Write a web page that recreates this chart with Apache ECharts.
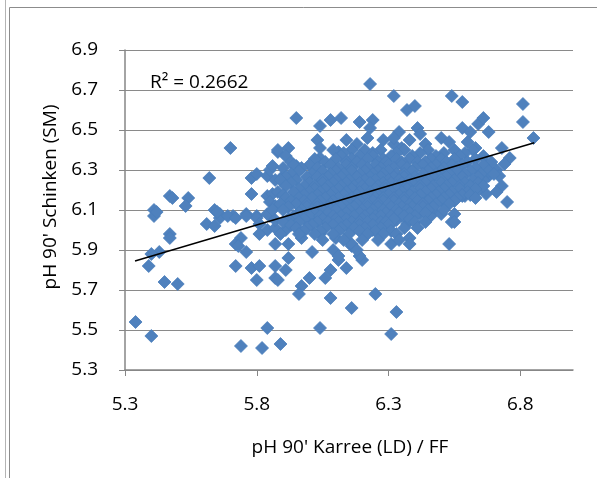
<!DOCTYPE html>
<html>
<head>
<meta charset="utf-8">
<title>pH 90' Schinken vs Karree</title>
<script src="https://cdn.jsdelivr.net/npm/echarts@6/dist/echarts.min.js"></script>
<style>
  html, body { margin: 0; padding: 0; background: #fff; }
  #main { width: 597px; height: 478px; }
</style>
</head>
<body>
<div id="main"></div>
<script type="text/javascript">
// x = pH 90' Karree (LD) / FF, y = pH 90' Schinken (SM)
var xTicks = [5.3, 5.8, 6.3, 6.8];
var yTicks = [5.3, 5.5, 5.7, 5.9, 6.1, 6.3, 6.5, 6.7, 6.9];
var rSquared = '0.2662';

// trendline ends
var trendX = [5.338, 6.853];
var trendY = [5.845, 6.436];

// points above the dense cloud
var upperPts = [
  [5.70,6.41],[5.62,6.26],[5.88,6.39],[5.95,6.56],[6.04,6.52],[6.08,6.55],[6.12,6.56],
  [6.19,6.54],[6.24,6.55],[6.23,6.51],[6.23,6.73],[6.32,6.67],[6.37,6.60],[6.40,6.62],
  [6.54,6.67],[6.58,6.64],[6.81,6.63],[6.81,6.54],[6.85,6.46],
  [6.03,6.45],[6.04,6.41],[6.14,6.45],[6.18,6.43],[6.22,6.46],[5.88,6.40],[5.92,6.41],
  [5.91,6.37],[6.11,6.39],[6.04,6.36],[6.28,6.45],[6.32,6.43],[6.34,6.49],[6.32,6.46],
  [6.41,6.51],[6.42,6.48],[6.58,6.51],[6.61,6.49],[6.64,6.53],[6.66,6.56],[6.68,6.49],
  [6.50,6.46],[6.53,6.44],[6.60,6.44],[6.63,6.41],[6.44,6.43],[6.38,6.45],[6.35,6.41],
  [6.73,6.41],[6.76,6.36],[6.74,6.33],[6.71,6.30],[6.67,6.33],[6.68,6.27],[6.73,6.22],
  [6.72,6.27],[6.75,6.14],[6.67,6.18],[6.59,6.17]
];

// points left of the cloud
var leftPts = [
  [5.47,6.17],[5.48,6.16],[5.54,6.16],[5.53,6.12],[5.41,6.10],[5.41,6.07],[5.64,6.10],
  [5.78,6.26],[5.80,6.28],[5.84,6.27],[5.85,6.30],[5.87,6.25],[5.78,6.18],[5.84,6.17],
  [5.86,6.18],[5.85,6.14],[5.87,6.12],[5.66,6.08],[5.71,6.07],[5.76,6.08],[5.80,6.07],
  [5.85,6.07],[5.42,6.09],[5.47,5.98],[5.47,5.96],[5.43,5.89],[5.40,5.88],[5.39,5.82],
  [5.45,5.74],[5.50,5.73],[5.61,6.03],[5.64,6.02],[5.66,6.06],[5.65,6.09],[5.69,6.07],
  [5.72,6.06],[5.76,6.07],[5.80,6.06],[5.84,6.08],[5.86,6.10],[5.72,5.93],[5.74,5.96],
  [5.76,5.89],[5.73,5.92],[5.81,6.03],[5.84,6.00],[5.87,6.01],[5.81,5.98],[5.72,5.82],
  [5.78,5.81],[5.81,5.82],[5.80,5.75],[5.87,5.76],[5.87,5.82],[5.86,6.32],[5.95,6.32],
  [5.90,6.27]
];

// points below the cloud
var lowerPts = [
  [5.34,5.54],[5.40,5.47],[5.84,5.51],[5.74,5.42],[5.82,5.41],[5.89,5.43],
  [6.31,5.93],[6.01,5.89],[6.11,5.85],[6.14,5.81],[6.20,5.85],[5.92,5.86],[5.91,5.80],
  [5.88,5.75],[6.00,5.76],[5.97,5.72],[5.96,5.68],[6.08,5.80],[6.06,5.76],[6.08,5.66],
  [6.25,5.68],[6.16,5.61],[6.04,5.51],[6.31,5.48],[6.33,5.59],[6.53,5.93],[6.38,5.96],
  [6.38,5.93],[6.09,5.90],[6.16,5.92],[6.19,5.87],[6.11,5.87],[6.47,6.09],[6.44,6.15],
  [6.54,6.04],[6.58,6.17],[6.64,6.20],[6.66,6.25],
  [5.87,6.05],[5.91,6.00],[5.87,5.93],[5.92,5.93],[5.97,5.96],[6.04,5.98],[6.10,5.96],
  [6.16,5.93],[6.18,5.90],[6.24,6.00],[6.29,6.07],[6.33,6.05],[6.14,6.03],[6.01,6.05],
  [6.06,6.07],[6.35,6.07],[6.42,6.08],[6.46,6.07],[6.50,6.08],[6.55,6.08],[6.55,6.04],
  [6.37,6.03],[6.31,6.03]
];

// dense middle of the cloud, row by row (y, then the x values seen on that row)
var coreRows = [
  [6.40, [6.09,6.16,6.21,6.27,6.36,6.45,6.55,6.62]],
  [6.385,[6.13,6.24,6.33,6.42,6.51,6.59]],
  [6.37, [6.12,6.19,6.24,6.31,6.39,6.48,6.57,6.66]],
  [6.355,[6.02,6.10,6.16,6.22,6.28,6.33,6.38,6.46,6.50,6.55,6.63]],
  [6.34, [5.93,6.06,6.14,6.18,6.26,6.29,6.35,6.41,6.44,6.52,6.60,6.69]],
  [6.325,[5.94,6.00,6.08,6.14,6.20,6.25,6.30,6.35,6.43,6.48,6.54,6.58,6.66]],
  [6.31, [5.90,5.97,6.03,6.11,6.16,6.22,6.27,6.32,6.37,6.40,6.46,6.51,6.56,6.63]],
  [6.295,[5.96,6.05,6.10,6.16,6.21,6.26,6.30,6.39,6.45,6.50,6.56,6.61,6.68]],
  [6.28, [5.93,6.01,6.08,6.13,6.19,6.24,6.28,6.33,6.36,6.43,6.48,6.53,6.59,6.65,6.70]],
  [6.265,[5.91,5.99,6.03,6.07,6.12,6.18,6.23,6.27,6.32,6.36,6.40,6.47,6.52,6.58,6.64]],
  [6.25, [5.89,5.95,6.05,6.10,6.15,6.21,6.25,6.30,6.34,6.38,6.41,6.45,6.50,6.55,6.62]],
  [6.235,[5.93,6.00,6.05,6.09,6.14,6.19,6.23,6.28,6.31,6.35,6.39,6.44,6.50,6.54,6.59,6.64]],
  [6.22, [5.91,5.98,6.02,6.07,6.12,6.17,6.20,6.26,6.29,6.33,6.37,6.42,6.47,6.52,6.57,6.61,6.66]],
  [6.205,[5.96,6.02,6.06,6.11,6.16,6.21,6.25,6.29,6.33,6.37,6.42,6.46,6.51,6.57,6.63]],
  [6.19, [5.88,5.94,6.00,6.04,6.09,6.14,6.19,6.23,6.27,6.31,6.35,6.39,6.44,6.49,6.54,6.60,6.71]],
  [6.175,[5.90,5.98,6.03,6.08,6.13,6.18,6.23,6.26,6.30,6.34,6.38,6.42,6.48,6.53,6.58,6.61]],
  [6.16, [5.91,5.96,6.01,6.06,6.11,6.16,6.21,6.25,6.28,6.32,6.36,6.40,6.46,6.51,6.56,6.63]],
  [6.145,[5.93,5.98,6.04,6.09,6.14,6.19,6.24,6.28,6.32,6.36,6.41,6.45,6.50,6.55]],
  [6.13, [5.89,5.95,5.99,6.03,6.08,6.13,6.18,6.22,6.26,6.30,6.34,6.38,6.43,6.48,6.53]],
  [6.115,[5.92,5.99,6.03,6.07,6.12,6.17,6.22,6.26,6.31,6.35,6.39,6.43,6.47]],
  [6.10, [5.90,5.97,6.01,6.05,6.10,6.15,6.20,6.24,6.28,6.33,6.37,6.41,6.45,6.51]],
  [6.085,[5.96,6.02,6.07,6.14,6.19,6.23,6.29,6.34,6.38,6.44]],
  [6.07, [5.94,6.00,6.04,6.09,6.12,6.17,6.21,6.25,6.27,6.31,6.36,6.40]],
  [6.055,[5.92,5.98,6.05,6.10,6.14,6.20,6.24,6.32,6.38]],
  [6.04, [5.90,5.96,6.03,6.07,6.11,6.16,6.19,6.22,6.27,6.29,6.40,6.44]],
  [6.025,[5.93,6.01,6.09,6.14,6.19,6.24,6.30]],
  [6.01, [5.95,5.99,6.06,6.12,6.17,6.21,6.27,6.36,6.41]],
  [5.995,[5.98,6.04,6.11,6.19,6.25,6.31]],
  [5.98, [5.89,5.96,6.02,6.09,6.15,6.22,6.28,6.33]],
  [5.95, [6.05,6.13,6.20,6.26,6.34]]
];

var FONT = '"Open Sans", "Liberation Sans", sans-serif';
var GRID_COLOR = '#8a8a8a';

var points = [].concat(upperPts, leftPts, lowerPts);
for (var i = 0; i < coreRows.length; i++) {
  for (var j = 0; j < coreRows[i][1].length; j++) {
    points.push([coreRows[i][1][j], coreRows[i][0]]);
  }
}

var myChart = echarts.init(document.getElementById('main'));
var option = {
  animation: false,
  backgroundColor: '#ffffff',
  grid: { left: 125, right: 24, top: 50, bottom: 108 },
  xAxis: {
    type: 'value',
    min: xTicks[0],
    max: 7.0,
    interval: 0.5,
    axisLine: { lineStyle: { color: '#868686', width: 1.5 } },
    axisTick: { show: true, length: 6, lineStyle: { color: '#868686', width: 1 } },
    splitLine: { show: false },
    axisLabel: {
      showMaxLabel: false,
      margin: 25,
      color: '#000',
      fontFamily: FONT,
      fontSize: 19,
      formatter: function (v) { return xTicks.indexOf(+v.toFixed(1)) >= 0 ? v.toFixed(1) : ''; }
    }
  },
  yAxis: {
    type: 'value',
    min: yTicks[0],
    max: yTicks[yTicks.length - 1],
    interval: 0.2,
    axisLine: { show: true, lineStyle: { color: '#868686', width: 1.5 } },
    axisTick: { show: true, length: 6, lineStyle: { color: '#868686', width: 1 } },
    splitLine: { show: true, lineStyle: { color: GRID_COLOR, width: 1.2 } },
    axisLabel: {
      margin: 27,
      color: '#000',
      fontFamily: FONT,
      fontSize: 19,
      formatter: function (v) { return v.toFixed(1); }
    }
  },
  series: [
    {
      name: 'pH',
      type: 'scatter',
      symbol: 'diamond',
      symbolSize: 13,
      itemStyle: { color: '#4F81BD', borderColor: '#4A7EBB', borderWidth: 0.8, opacity: 1 },
      data: points,
      z: 2
    },
    {
      name: 'Trend',
      type: 'line',
      showSymbol: false,
      symbol: 'none',
      lineStyle: { color: '#000', width: 1.5 },
      data: [[trendX[0], trendY[0]], [trendX[1], trendY[1]]],
      z: 3
    }
  ],
  graphic: [
    { type: 'line', shape: { x1: 5.5, y1: 0, x2: 5.5, y2: 478 }, style: { stroke: '#b4b4b4', lineWidth: 1 } },
    { type: 'line', shape: { x1: 9.5, y1: 7.5, x2: 9.5, y2: 478 }, style: { stroke: '#8c8c8c', lineWidth: 1 } },
    { type: 'line', shape: { x1: 9.5, y1: 7.5, x2: 597, y2: 7.5 }, style: { stroke: '#8c8c8c', lineWidth: 1 } },
    {
      type: 'text', x: 150, y: 83,
      style: { text: 'R² = ' + rSquared, font: '19px ' + FONT, fill: '#000', textAlign: 'left', textVerticalAlign: 'middle' }
    },
    {
      type: 'text', x: 350, y: 448,
      style: { text: "pH 90' Karree (LD) / FF", font: '19px ' + FONT, fill: '#000', textAlign: 'center', textVerticalAlign: 'middle' }
    },
    {
      type: 'text', x: 51, y: 197, rotation: Math.PI / 2,
      style: { text: "pH 90' Schinken (SM)", font: '19px ' + FONT, fill: '#000', textAlign: 'center', textVerticalAlign: 'middle' }
    }
  ]
};
myChart.setOption(option);
</script>
</body>
</html>
